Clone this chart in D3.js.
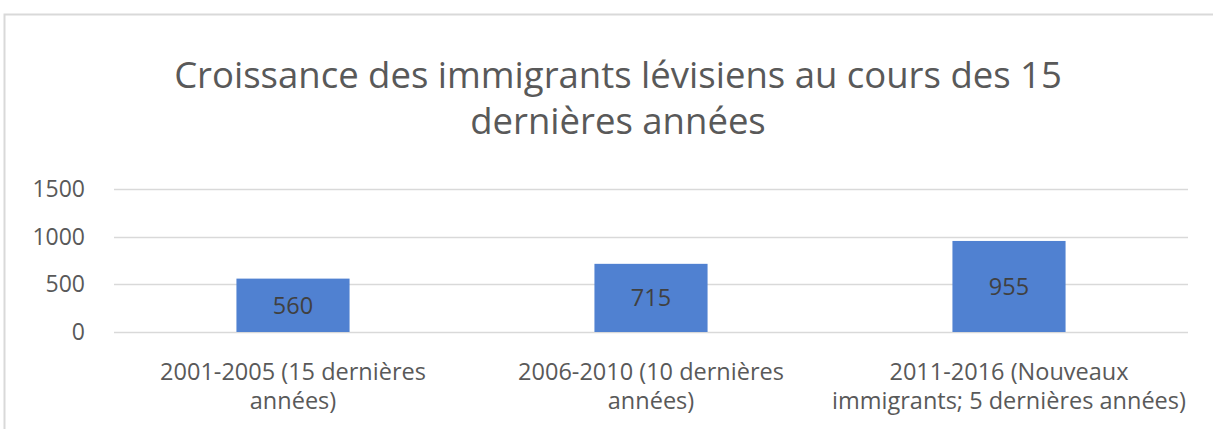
<!DOCTYPE html>
<html lang="fr">
<head>
<meta charset="UTF-8">
<title>Croissance des immigrants lévisiens</title>
<script src="https://d3js.org/d3.v7.min.js"></script>
<style>
  body { margin: 0; background: #fff; font-family: 'Open Sans', sans-serif; }
  svg { display: block; }
</style>
</head>
<body>
<svg id="chart" width="1213" height="429"></svg>
<script>
const categories = [
  "2001-2005 (15 dernières années)",
  "2006-2010 (10 dernières années)",
  "2011-2016 (Nouveaux immigrants; 5 dernières années)"
];
const categoryLines = [
  ["2001-2005 (15 dernières", "années)"],
  ["2006-2010 (10 dernières", "années)"],
  ["2011-2016 (Nouveaux", "immigrants; 5 dernières années)"]
];
const values = [560, 715, 955];
const yTicks = [0, 500, 1000, 1500];
const titleLines = ["Croissance des immigrants lévisiens au cours des 15", "dernières années"];

const width = 1213, height = 429;
const margin = { left: 114, right: 25, top: 189, bottom: 97 };
const svg = d3.select("#chart");

// chart frame
svg.append("path")
  .attr("d", `M4.5,${height} V14.5 H${width}`)
  .attr("fill", "none")
  .attr("stroke", "#d9d9d9")
  .attr("stroke-width", 2);

const x = d3.scaleBand()
  .domain(categories)
  .range([margin.left, width - margin.right])
  .paddingInner(0.684)
  .paddingOuter(0.342);

const y = d3.scaleLinear()
  .domain([0, 1500])
  .range([height - margin.bottom, margin.top]);

// title
svg.append("text")
  .attr("x", 618)
  .attr("y", 88)
  .attr("text-anchor", "middle")
  .attr("fill", "#595959")
  .style("font-size", "36.5px")
  .selectAll("tspan")
  .data(titleLines)
  .join("tspan")
  .attr("x", 618)
  .attr("dy", (d, i) => i ? 46 : 0)
  .text(d => d);

// gridlines
svg.append("g")
  .selectAll("line")
  .data(yTicks)
  .join("line")
  .attr("x1", margin.left)
  .attr("x2", width - margin.right)
  .attr("y1", d => Math.round(y(d)) + 0.5)
  .attr("y2", d => Math.round(y(d)) + 0.5)
  .attr("stroke", "#d9d9d9")
  .attr("stroke-width", 1.5);

// y axis labels
const yAxis = svg.append("g")
  .attr("transform", `translate(${margin.left - 29},0)`)
  .call(d3.axisLeft(y).tickValues(yTicks).tickFormat(d3.format("d")).tickSize(0).tickPadding(0));
yAxis.select(".domain").remove();
yAxis.selectAll("text")
  .attr("fill", "#595959")
  .style("font-family", "'Open Sans', sans-serif")
  .style("font-size", "23px");

// bars
svg.append("g")
  .selectAll("rect")
  .data(values)
  .join("rect")
  .attr("x", (d, i) => x(categories[i]))
  .attr("y", d => y(d))
  .attr("width", x.bandwidth())
  .attr("height", d => y(0) - y(d))
  .attr("fill", "#5081d1");

// value labels
svg.append("g")
  .selectAll("text")
  .data(values)
  .join("text")
  .attr("x", (d, i) => x(categories[i]) + x.bandwidth() / 2)
  .attr("y", d => (y(d) + y(0)) / 2)
  .attr("dy", "0.35em")
  .attr("text-anchor", "middle")
  .attr("fill", "#404040")
  .style("font-size", "23.5px")
  .text(d => d);

// category labels
svg.append("g")
  .selectAll("text")
  .data(categoryLines)
  .join("text")
  .attr("text-anchor", "middle")
  .attr("fill", "#595959")
  .style("font-size", "23.5px")
  .each(function(lines, i) {
    const cx = x(categories[i]) + x.bandwidth() / 2;
    d3.select(this).selectAll("tspan")
      .data(lines)
      .join("tspan")
      .attr("x", cx)
      .attr("y", (d, j) => 380 + j * 29)
      .text(d => d);
  });
</script>
</body>
</html>
